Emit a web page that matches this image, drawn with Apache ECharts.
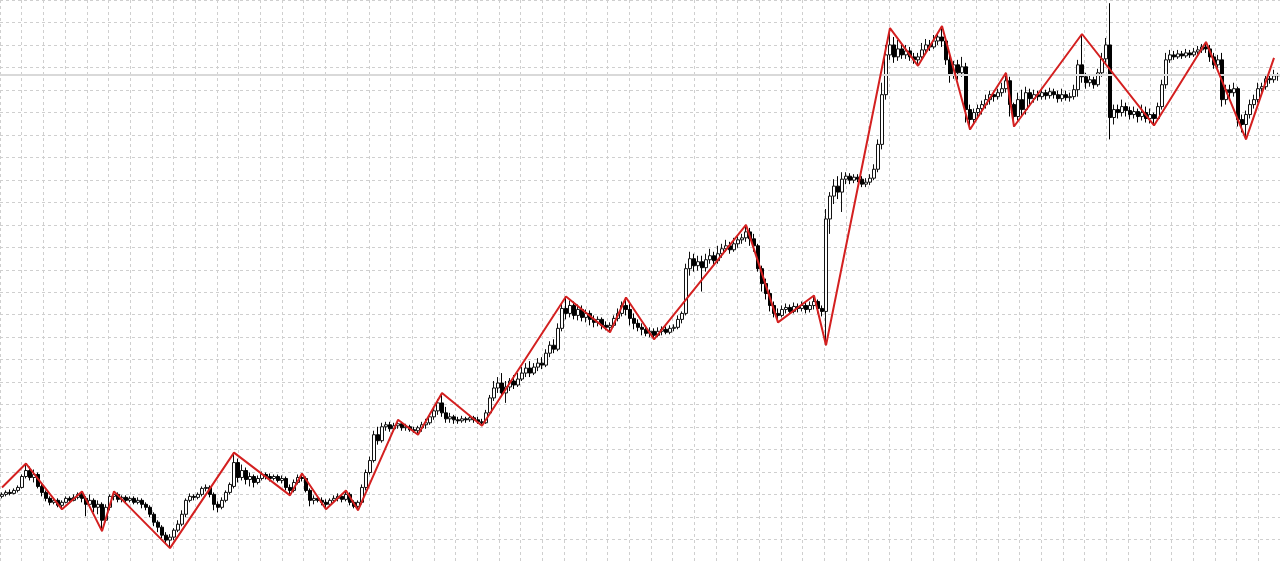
<!DOCTYPE html>
<html>
<head>
<meta charset="utf-8">
<script src="https://cdn.jsdelivr.net/npm/echarts@6/dist/echarts.min.js"></script>
<style>
html,body{margin:0;padding:0;background:#ffffff;}
#chart{width:1280px;height:562px;}
</style>
</head>
<body>
<div id="chart"></div>
<script>
// ---- candle values (price units) ----
const opens = [
66,68,70,69,72,75,86,92,85,88,
76,70,64,60,62,57,60,64,62,65,
68,64,58,62,55,58,42,55,66,68,
63,65,62,64,60,62,58,55,48,40,
35,27,22,25,32,38,48,62,66,65,
68,74,75,68,58,55,62,70,76,100,
85,92,83,86,80,84,88,86,84,86,
82,84,75,72,80,85,84,72,62,64,
62,60,58,62,64,66,63,68,60,56,
60,75,90,102,128,122,136,138,134,137,
139,135,136,133,132,135,138,140,146,152,
160,150,144,146,143,142,144,143,145,143,
141,140,150,165,175,180,170,176,182,178,
184,190,195,190,196,200,198,210,218,214,
235,255,250,258,248,254,246,250,244,241,
244,238,236,238,245,250,258,254,245,240,
236,234,230,232,228,232,234,231,235,236,
244,250,295,305,298,302,296,304,308,303,
310,315,318,314,320,324,326,332,325,318,
295,280,270,258,250,248,254,256,252,257,
255,258,254,258,262,255,252,345,368,378,
372,385,388,384,387,385,380,382,386,395,
420,470,510,520,508,516,510,514,508,505,
508,515,520,518,524,528,524,505,490,500,
492,498,455,445,452,456,460,465,470,468,
472,476,484,460,448,465,455,472,466,470,
468,472,469,473,470,466,470,467,468,475,
500,488,482,485,480,492,506,520,447,455,
452,458,454,450,453,448,452,446,450,446,
458,480,505,510,508,511,509,512,510,513,
515,518,516,508,500,505,465,475,472,476,
445,440,450,460,465,476,478,486,485,489
];
const closes = [
68,70,69,72,75,86,92,85,88,76,
70,64,60,62,57,60,64,62,65,68,
64,58,62,55,58,42,55,66,68,63,
65,62,64,60,62,58,55,48,40,35,
27,22,25,32,38,48,62,66,65,68,
74,75,68,58,55,62,70,78,100,85,
92,83,86,80,84,88,86,84,86,82,
84,75,72,80,85,84,72,62,64,62,
60,58,62,64,66,63,68,60,56,60,
75,90,102,128,122,136,138,134,137,139,
135,136,133,132,135,138,140,146,152,160,
150,144,146,143,142,144,143,145,143,141,
140,150,165,175,180,170,176,182,178,184,
190,195,190,196,200,198,210,218,214,235,
255,250,258,248,254,246,250,244,241,244,
238,236,238,245,250,258,254,245,240,236,
234,230,232,228,232,234,231,235,236,244,
250,295,305,298,302,296,304,308,303,310,
315,318,314,320,324,326,332,325,318,295,
280,270,258,250,248,254,256,252,257,255,
258,254,258,262,255,252,345,368,378,372,
385,388,384,387,385,380,382,386,395,420,
470,510,520,508,516,510,514,508,505,508,
515,520,518,524,528,524,505,490,500,492,
498,455,445,452,456,460,465,470,468,472,
476,484,460,448,465,455,472,466,470,468,
472,469,473,470,466,470,467,468,475,500,
488,482,485,480,492,506,520,447,455,452,
458,454,450,453,448,452,446,450,446,458,
480,505,510,508,511,509,512,510,513,515,
518,516,508,500,505,465,475,472,476,445,
440,450,460,465,476,478,486,485,489,490
];
const lows = [
64,66,67,68,70,74,84,82,80,74,
66,61,57,58,55,53,59,60,61,63,
60,46,55,50,48,31,40,52,62,60,
60,59,60,58,58,54,52,45,36,30,
24,18,14,22,30,36,45,60,62,63,
66,71,65,52,50,53,60,68,74,80,
82,78,76,75,78,82,83,81,82,80,
79,72,67,70,78,81,70,56,58,60,
57,53,56,60,61,60,61,57,54,52,
58,72,88,100,118,120,132,131,132,134,
132,132,131,130,128,131,134,138,143,148,
146,140,140,139,139,140,140,141,140,139,
137,139,148,162,170,166,160,172,174,176,
182,186,186,188,192,194,196,206,210,212,
232,244,246,244,243,242,241,238,236,237,
234,233,231,236,242,247,248,238,234,232,
228,227,226,224,226,228,229,229,232,234,
240,248,288,292,293,272,292,300,298,300,
306,312,310,312,316,320,322,318,312,292,
272,264,252,246,241,246,250,249,250,251,
252,250,251,254,250,247,218,330,360,365,
352,380,380,381,382,377,377,379,384,392,
415,465,505,502,504,506,506,504,501,499,
506,512,514,516,520,518,500,482,486,485,
488,442,435,440,447,450,456,460,463,465,
468,472,448,438,444,448,450,460,462,464,
465,465,466,466,462,463,464,463,465,468,
482,476,478,476,478,488,502,425,440,446,
448,448,445,446,442,444,442,441,439,444,
455,476,502,505,506,506,507,507,508,510,
512,512,503,496,497,458,460,466,468,438,
432,425,446,456,462,472,475,481,482,484
];
const highs = [
70,72,73,74,77,88,99,96,93,90,
80,72,66,64,64,62,66,66,68,70,
71,66,68,64,62,60,58,68,71,70,
67,67,66,66,65,64,60,57,50,42,
37,30,28,34,42,52,64,69,68,70,
76,78,77,70,61,65,72,80,110,104,
98,95,90,88,87,91,90,89,88,88,
87,86,78,83,88,89,86,74,67,66,
65,63,64,67,69,68,72,70,62,62,
78,93,106,132,136,140,141,141,140,143,
141,139,138,136,137,141,144,149,155,164,
170,156,150,148,146,147,146,148,147,146,
144,153,168,182,186,190,182,185,188,190,
196,200,202,200,205,206,214,222,224,240,
260,267,263,262,259,258,254,253,248,247,
246,242,241,248,255,262,266,260,250,244,
240,238,236,235,236,237,237,238,239,248,
252,300,312,310,308,308,310,315,312,318,
320,324,322,326,328,330,339,336,330,320,
298,285,274,262,255,258,260,259,261,260,
262,261,262,268,264,258,355,372,385,388,
392,392,391,390,390,388,386,390,400,425,
482,520,537,528,525,522,520,518,512,512,
522,526,525,530,532,539,528,510,504,505,
508,502,460,456,460,464,470,474,474,476,
482,492,488,462,472,475,478,476,475,474,
477,475,477,476,474,476,474,472,480,505,
531,492,490,488,496,512,527,562,460,460,
465,462,458,458,456,460,458,456,452,462,
485,512,515,514,515,514,516,515,517,519,
521,523,520,512,510,512,480,480,482,478,
450,454,465,470,482,482,490,490,495,492
];
// ---- zigzag turning points (bar index, price) ----
const zigzagIdx = [0,6,15,20,25,28,42,58,72,75,81,86,89,99,104,110,120,141,152,156,163,186,194,203,206,222,229,235,242,251,253,270,288,301,311,318];
const zigzagVal = [75,99,53,71,31,71,14,110,67,89,53,72,52,143,128,170,137,267,231,266,224,339,241,268,218,537,499,539,435,492,438,531,439,523,425,507];
// ---- axis scale ----
const priceMin = 0;
const priceMax = 565.2;
const priceStep = 22.608;
const bidPrice = 490;

const categories = opens.map((_, i) => 'bar ' + (i + 1));
const candleData = opens.map((o, i) => [o, closes[i], lows[i], highs[i]]);
const zigzagData = opens.map(() => null);
zigzagIdx.forEach((idx, k) => { zigzagData[idx] = zigzagVal[k]; });

const gridLine = { show: true, lineStyle: { color: '#cfcfcf', width: 1, type: [3, 3] } };

const chart = echarts.init(document.getElementById('chart'), null, { renderer: 'canvas' });
chart.setOption({
  animation: false,
  backgroundColor: '#ffffff',
  grid: [
    { left: -0.98, width: 1296.82, top: -0.6, height: 565.2 },
    { left: 0, width: 1280, top: -0.6, height: 565.2 }
  ],
  xAxis: [
    { type: 'value', gridIndex: 0, min: 0, max: 59, interval: 1,
      axisLine: { show: false }, axisTick: { show: false }, axisLabel: { show: false },
      splitLine: gridLine },
    { type: 'category', gridIndex: 1, data: categories, boundaryGap: true,
      axisLine: { show: false }, axisTick: { show: false }, axisLabel: { show: false },
      splitLine: { show: false } }
  ],
  yAxis: [
    { type: 'value', gridIndex: 0, min: priceMin, max: priceMax, interval: priceStep,
      axisLine: { show: false }, axisTick: { show: false }, axisLabel: { show: false },
      splitLine: gridLine },
    { type: 'value', gridIndex: 1, min: priceMin, max: priceMax, scale: false,
      axisLine: { show: false }, axisTick: { show: false }, axisLabel: { show: false },
      splitLine: { show: false } }
  ],
  series: [
    {
      type: 'candlestick',
      xAxisIndex: 1, yAxisIndex: 1,
      data: candleData,
      barWidth: 3,
      clip: false,
      itemStyle: {
        color: '#ffffff', color0: '#000000',
        borderColor: '#111111', borderColor0: '#000000', borderWidth: 1
      },
      markLine: {
        silent: true, symbol: ['none', 'none'],
        label: { show: false },
        lineStyle: { color: '#d9d9d9', width: 2, type: 'solid' },
        data: [{ yAxis: bidPrice }]
      }
    },
    {
      type: 'line',
      xAxisIndex: 1, yAxisIndex: 1,
      data: zigzagData,
      connectNulls: true,
      showSymbol: false,
      symbol: 'none',
      clip: false,
      lineStyle: { color: '#d42020', width: 2 },
      z: 5
    }
  ]
});
</script>
</body>
</html>
